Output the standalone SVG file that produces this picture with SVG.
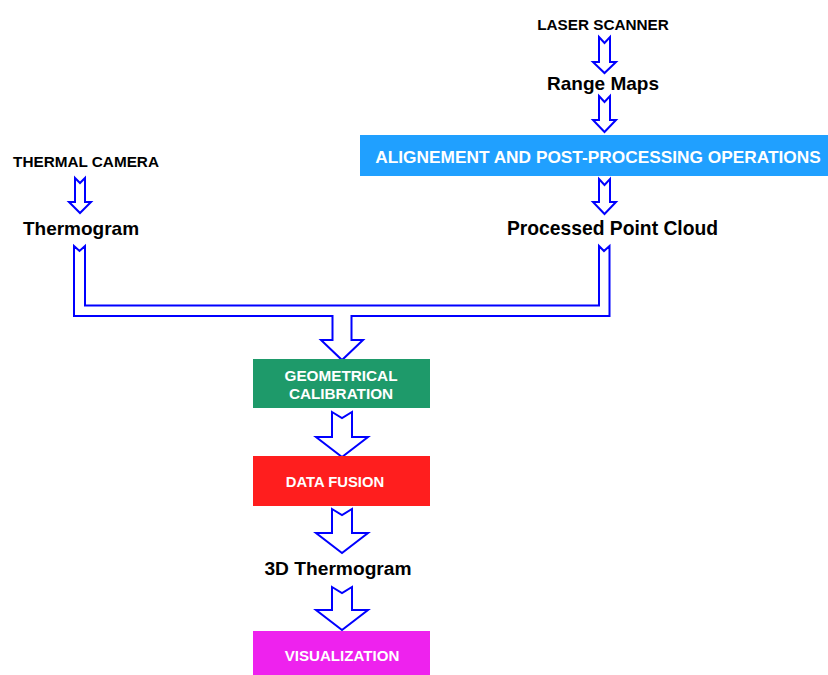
<svg xmlns="http://www.w3.org/2000/svg" width="828" height="675" viewBox="0 0 828 675">
<style>
  .bg { fill: #ffffff; }
  .arrow { fill: #ffffff; stroke: #0000ff; stroke-width: 2; stroke-linejoin: miter; }
  .lbl { font-family: "Liberation Sans", Arial, sans-serif; font-weight: bold; fill: #000000; text-anchor: middle; }
  .wlbl { font-family: "Liberation Sans", Arial, sans-serif; font-weight: bold; fill: #ffffff; text-anchor: middle; }
</style>
<rect class="bg" x="0" y="0" width="828" height="675"/>

<g id="connectors">
  <!-- laser scanner -> range maps -->
  <polygon class="arrow" points="599,37 604.5,43 610,37 610,62 616,62 604.5,73 593,62 599,62"/>
  <!-- range maps -> alignment -->
  <polygon class="arrow" points="599,96 604.5,102 610,96 610,120 616,120 604.5,132 593,120 599,120"/>
  <!-- alignment -> processed point cloud -->
  <polygon class="arrow" points="599,179 604.5,185 610,179 610,202 616,202 604.5,214 593,202 599,202"/>
  <!-- thermal camera -> thermogram -->
  <polygon class="arrow" points="75,178 80,183 85,178 85,202 91,202 80,213 69,202 75,202"/>
  <!-- merge: thermogram + point cloud -> geometrical calibration -->
  <polygon class="arrow" points="74,246 79.5,251 85,246 85,305.5 599,305.5 599,246 604,251 609.5,246 609.5,316 351.5,316 351.5,340 363,340 342,360 321,340 332.5,340 332.5,316 74,316"/>
  <!-- geometrical calibration -> data fusion -->
  <polygon class="arrow" points="332,412 342,418 352,412 352,437 368,437 342,457 316,437 332,437"/>
  <!-- data fusion -> 3D thermogram -->
  <polygon class="arrow" points="332,509 342,515 352,509 352,533 368,533 342,553 316,533 332,533"/>
  <!-- 3D thermogram -> visualization -->
  <polygon class="arrow" points="332,587 342,593 352,587 352,610 368,610 342,630 316,610 332,610"/>
</g>

<g id="laser-scanner">
  <text class="lbl" x="603" y="30" font-size="15.3">LASER SCANNER</text>
</g>
<g id="range-maps">
  <text class="lbl" x="603" y="90" font-size="19">Range Maps</text>
</g>
<g id="alignment">
  <rect x="360" y="135" width="468" height="41" fill="#20a0ff"/>
  <text class="wlbl" x="598" y="163" font-size="17.3">ALIGNEMENT AND POST-PROCESSING OPERATIONS</text>
</g>
<g id="processed-point-cloud">
  <text class="lbl" x="612.5" y="234.5" font-size="19.3">Processed Point Cloud</text>
</g>
<g id="thermal-camera">
  <text class="lbl" x="86" y="166.5" font-size="15.3">THERMAL CAMERA</text>
</g>
<g id="thermogram">
  <text class="lbl" x="81" y="234.5" font-size="19">Thermogram</text>
</g>
<g id="geometrical-calibration">
  <rect x="253" y="359" width="177" height="49" fill="#1e9a6a"/>
  <text class="wlbl" x="341" y="381" font-size="15.3">GEOMETRICAL</text>
  <text class="wlbl" x="341" y="399" font-size="15.3">CALIBRATION</text>
</g>
<g id="data-fusion">
  <rect x="253" y="456" width="177" height="50" fill="#ff1e1e"/>
  <text class="wlbl" x="335" y="487" font-size="14.8">DATA FUSION</text>
</g>
<g id="thermogram-3d">
  <text class="lbl" x="338" y="574.5" font-size="19.2">3D Thermogram</text>
</g>
<g id="visualization">
  <rect x="253" y="631" width="177" height="44" fill="#ee22ee"/>
  <text class="wlbl" x="342" y="661" font-size="15.1">VISUALIZATION</text>
</g>
</svg>
